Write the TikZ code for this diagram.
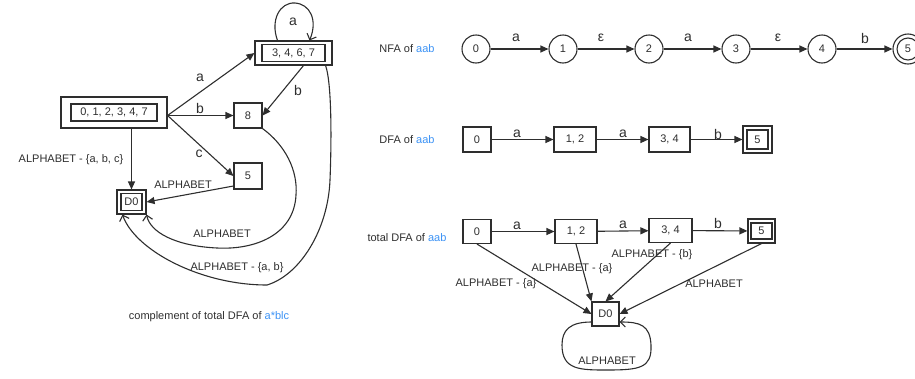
\documentclass[tikz,border=0pt]{standalone}
\usepackage{fontspec}
\setmainfont{Liberation Sans}
\usetikzlibrary{arrows.meta}
\definecolor{ink}{HTML}{2E2E2E}
\definecolor{hl}{HTML}{3D93F5}
\begin{document}
\begin{tikzpicture}[x=1pt,y=-1pt,
  every node/.style={text=ink, font=\fontsize{11}{13}\selectfont, inner sep=0pt},
  sbox/.style={draw=ink, line width=1.1pt, rectangle},
  scirc/.style={draw=ink, line width=1.1pt, circle, minimum size=28pt},
  lbl/.style={font=\fontsize{14}{16}\selectfont},
  edge/.style={draw=ink, line width=1.1pt, -{Triangle[length=8pt,width=7pt]}},
  loose/.style={draw=ink, line width=1.1pt, -{Straight Barb[length=5pt,width=10pt]}},
]
\useasboundingbox (0,0) rectangle (915,378);

% ---------- complement of total DFA of a*blc ----------
\node[sbox, minimum width=106pt, minimum height=31pt] (c0o) at (114,112.5) {};
\node[sbox, minimum width=86pt, minimum height=17pt] (c0) at (114,112.5) {0, 1, 2, 3, 4, 7};
\node[sbox, minimum width=77pt, minimum height=24pt] (c1o) at (293.5,53) {};
\node[sbox, minimum width=63pt, minimum height=17pt] (c1) at (293.5,53) {3, 4, 6, 7};
\node[sbox, minimum width=28pt, minimum height=25pt] (c8) at (248,115.5) {8};
\node[sbox, minimum width=28pt, minimum height=26pt] (c5) at (248,176) {5};
\node[sbox, minimum width=29pt, minimum height=24pt] (cdo) at (131.5,202) {};
\node[sbox, minimum width=21pt, minimum height=17pt] (cd) at (131.5,202) {D0};

\coordinate (cfork) at ([yshift=-3pt]c0o.east);
\draw[edge] (cfork) -- (c1o.west) node[lbl] at (200,78) {a};
\draw[edge] (cfork) -- (c8.west) node[lbl] at (200,108) {b};
\draw[edge] (cfork) -- (c5.west) node[lbl] at (199,154) {c};
\draw[edge] ([xshift=10pt]c1o.south) -- (c8.east) node[lbl] at (298,90) {b};
\draw[edge] (c0o.south -| cdo.north) -- (cdo.north) node at (71,160) {ALPHABET - \{a, b, c\}};
\draw[edge] ([yshift=-10pt]c5.west) -- (cdo.east) node at (183,185) {ALPHABET};
\draw[loose] ([xshift=-16pt]c1o.north) .. controls (270,20) and (280,2) .. (295,3)
  .. controls (310,4) and (318,20) .. ([xshift=16pt]c1o.north);
\node[lbl] (la) at (293,22) {a};
\draw[loose] (c8.south east) .. controls (285,145) and (298,170) .. (296,195)
  .. controls (294,235) and (255,250) .. (217,248)
  .. controls (175,246) and (150,232) .. (cdo.south east);
\node (l8) at (222,234) {ALPHABET};
\draw[loose] ([xshift=-7pt]c1o.south east) .. controls (331,80) and (332,130) .. (330,180)
  .. controls (328,230) and (300,275) .. (267,285)
  .. controls (200,285) and (135,250) .. ([xshift=6pt]cdo.south west);
\node (l1) at (237,268) {ALPHABET - \{a, b\}};
\node (cap1) at (209,317) {complement of total DFA of \textcolor{hl}{a*blc}};

% ---------- NFA of aab ----------
\node (nt) at (407,49) {NFA of \textcolor{hl}{aab}};
\node[scirc] (n0) at (476,49) {0};
\node[scirc] (n1) at (563,49) {1};
\node[scirc] (n2) at (649,49) {2};
\node[scirc] (n3) at (736,49) {3};
\node[scirc] (n4) at (822,49) {4};
\node[scirc, minimum size=30pt] (n5o) at (908,49) {};
\node[scirc, minimum size=22pt] (n5) at (908,49) {5};
\draw[edge] (n0) -- (n1) node[lbl] at (516,38) {a};
\draw[edge] (n1) -- (n2) node[lbl] at (601,38) {ε};
\draw[edge] (n2) -- (n3) node[lbl] at (688,38) {a};
\draw[edge] (n3) -- (n4) node[lbl] at (778,38) {ε};
\draw[edge] (n4) -- (n5o) node[lbl] at (865,38) {b};

% ---------- DFA of aab ----------
\node (dt) at (407,140) {DFA of \textcolor{hl}{aab}};
\node[sbox, minimum width=28pt, minimum height=25pt] (d0) at (477,139.5) {0};
\node[sbox, minimum width=42pt, minimum height=25pt] (d1) at (575,139.5) {1, 2};
\node[sbox, minimum width=41pt, minimum height=25pt] (d3) at (669.5,139.5) {3, 4};
\node[sbox, minimum width=29pt, minimum height=27pt] (d5o) at (757.5,139.5) {};
\node[sbox, minimum width=21pt, minimum height=19pt] (d5) at (757.5,139.5) {5};
\draw[edge] (d0) -- (d1) node[lbl] at (517,134) {a};
\draw[edge] (d1) -- (d3) node[lbl] at (623,134) {a};
\draw[edge] (d3) -- (d5o) node[lbl] at (718,134) {b};

% ---------- total DFA of aab ----------
\node (tt) at (407,238) {total DFA of \textcolor{hl}{aab}};
\node[sbox, minimum width=28pt, minimum height=24pt] (t0) at (477,231.5) {0};
\node[sbox, minimum width=42pt, minimum height=24pt] (t1) at (576,231.5) {1, 2};
\node[sbox, minimum width=43pt, minimum height=24pt] (t3) at (670.5,230.5) {3, 4};
\node[sbox, minimum width=27pt, minimum height=24pt] (t5o) at (761.5,231) {};
\node[sbox, minimum width=21pt, minimum height=16pt] (t5) at (761.5,231) {5};
\node[sbox, minimum width=27pt, minimum height=24pt] (td) at (605.5,314) {D0};
\draw[edge] (t0) -- (t1) node[lbl] at (517,226) {a};
\draw[edge] (t1) -- (t3) node[lbl] at (623,225) {a};
\draw[edge] (t3) -- (t5o) node[lbl] at (718,223) {b};
\draw[edge] (t0.south) -- (td.west) node at (496,284) {ALPHABET - \{a\}};
\draw[edge] (t1.south) -- (td.north west) node at (572,269) {ALPHABET - \{a\}};
\draw[edge] (t3.south) -- (td.north) node at (652,255) {ALPHABET - \{b\}};
\draw[edge] (t5o.south) -- (td.east) node at (714,284) {ALPHABET};
\draw[loose] ([yshift=-8pt]td.west) .. controls (570,322) and (562,330) .. (562,345)
  .. controls (562,370) and (580,370) .. (607,370)
  .. controls (640,370) and (652,368) .. (651,345)
  .. controls (650,325) and (640,322) .. ([yshift=-8pt]td.east);
\node (ld) at (607,361) {ALPHABET};
\end{tikzpicture}
\end{document}
